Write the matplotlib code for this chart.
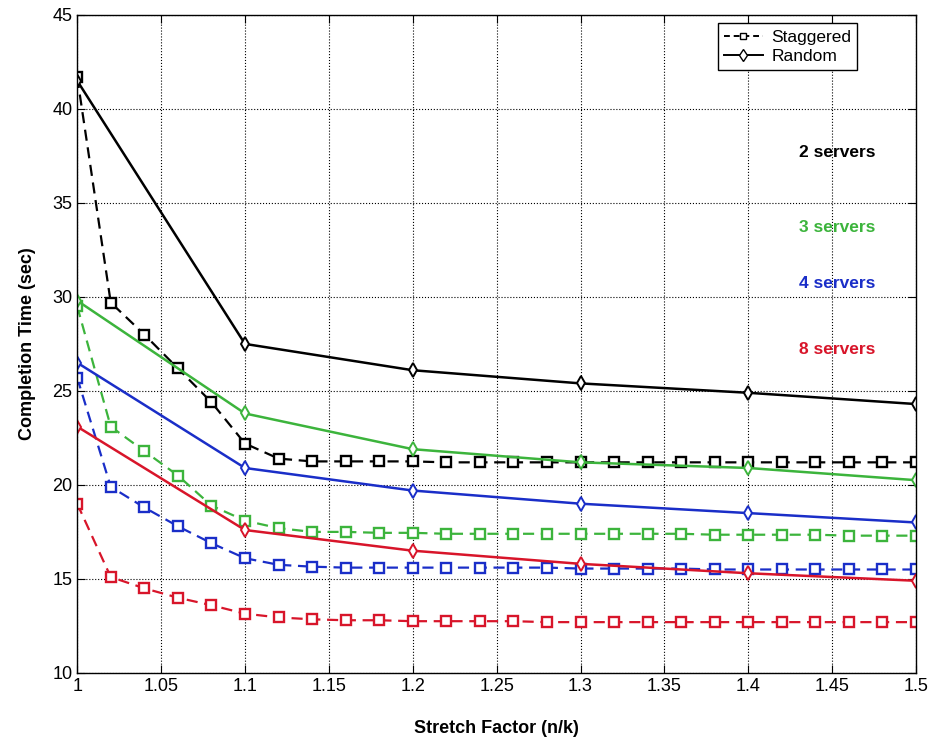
import numpy as np
import matplotlib
matplotlib.use('Agg')
import matplotlib.pyplot as plt

plt.rcParams['font.family'] = ['Liberation Sans', 'DejaVu Sans']

# x positions
x_stag = [1.00, 1.02, 1.04, 1.06, 1.08, 1.10, 1.12, 1.14, 1.16, 1.18, 1.20, 1.22, 1.24,
          1.26, 1.28, 1.30, 1.32, 1.34, 1.36, 1.38, 1.40, 1.42, 1.44, 1.46, 1.48, 1.50]
x_rand = [1.0, 1.1, 1.2, 1.3, 1.4, 1.5]

# staggered (dashed, squares)
stag_2 = [41.7, 29.7, 28.0, 26.2, 24.4, 22.2, 21.4, 21.25, 21.25, 21.25, 21.25, 21.2, 21.2,
          21.2, 21.2, 21.2, 21.2, 21.2, 21.2, 21.2, 21.2, 21.2, 21.2, 21.2, 21.2, 21.2]
stag_3 = [29.5, 23.1, 21.8, 20.5, 18.9, 18.1, 17.7, 17.5, 17.5, 17.45, 17.45, 17.4, 17.4,
          17.4, 17.4, 17.4, 17.4, 17.4, 17.4, 17.35, 17.35, 17.35, 17.35, 17.3, 17.3, 17.3]
stag_4 = [25.7, 19.9, 18.8, 17.8, 16.9, 16.1, 15.75, 15.65, 15.6, 15.6, 15.6, 15.6, 15.6,
          15.6, 15.6, 15.55, 15.55, 15.55, 15.55, 15.5, 15.5, 15.5, 15.5, 15.5, 15.5, 15.5]
stag_8 = [19.0, 15.1, 14.5, 14.0, 13.6, 13.15, 12.95, 12.85, 12.8, 12.8, 12.75, 12.75, 12.75,
          12.75, 12.7, 12.7, 12.7, 12.7, 12.7, 12.7, 12.7, 12.7, 12.7, 12.7, 12.7, 12.7]

# random (solid, diamonds)
rand_2 = [41.5, 27.5, 26.1, 25.4, 24.9, 24.3]
rand_3 = [29.8, 23.8, 21.9, 21.2, 20.9, 20.25]
rand_4 = [26.5, 20.9, 19.7, 19.0, 18.5, 18.0]
rand_8 = [23.1, 17.6, 16.5, 15.8, 15.3, 14.9]

labels = ['2 servers', '3 servers', '4 servers', '8 servers']
label_y = [37.7, 33.7, 30.7, 27.2]
colors = ['black', '#3cb43c', '#1a2ec8', '#d8152a']

fig = plt.figure(figsize=(9.3, 7.46), dpi=100)
ax = fig.add_axes([0.083, 0.098, 0.902, 0.882])

stag = [stag_2, stag_3, stag_4, stag_8]
rand = [rand_2, rand_3, rand_4, rand_8]
for i in range(4):
    ax.plot(x_stag, stag[i], '--', color=colors[i], lw=1.6, marker='s',
            ms=6.5, mfc='white', mew=1.7, dashes=(5, 3))
    ax.plot(x_rand, rand[i], '-', color=colors[i], lw=1.8, marker='d',
            ms=7.5, mfc='white', mew=1.4)
    ax.text(1.453, label_y[i], labels[i], color=colors[i], fontsize=12.5,
            fontweight='bold', ha='center', va='center')

# legend proxies
h1, = ax.plot([], [], '--', color='black', lw=1.4, marker='s', ms=5, mfc='white', dashes=(3, 2))
h2, = ax.plot([], [], '-', color='black', lw=1.4, marker='d', ms=6, mfc='white')
leg = ax.legend([h1, h2], ['Staggered', 'Random'], loc='upper right',
                bbox_to_anchor=(0.93, 0.987), fontsize=12.5, handlelength=2.2,
                borderpad=0.35, labelspacing=0.25, handletextpad=0.5,
                borderaxespad=0.0, fancybox=False, framealpha=1)
leg.get_frame().set_edgecolor('black')
leg.get_frame().set_linewidth(1.0)

ax.set_xlim(1, 1.5)
ax.set_ylim(10, 45)
ax.set_xticks(np.arange(1, 1.501, 0.05))
ax.set_xticklabels(['1', '1.05', '1.1', '1.15', '1.2', '1.25', '1.3', '1.35', '1.4', '1.45', '1.5'])
ax.set_yticks(range(10, 46, 5))
ax.tick_params(direction='in', top=True, right=True, labelsize=13, length=6)
ax.grid(True, linestyle=':', color='black', lw=0.8)
for s in ax.spines.values():
    s.set_linewidth(1.0)

ax.set_xlabel('Stretch Factor (n/k)', fontsize=13, fontweight='bold', labelpad=18)
ax.set_ylabel('Completion Time (sec)', fontsize=13, fontweight='bold', labelpad=12)

fig.savefig('out.png', dpi=100)
